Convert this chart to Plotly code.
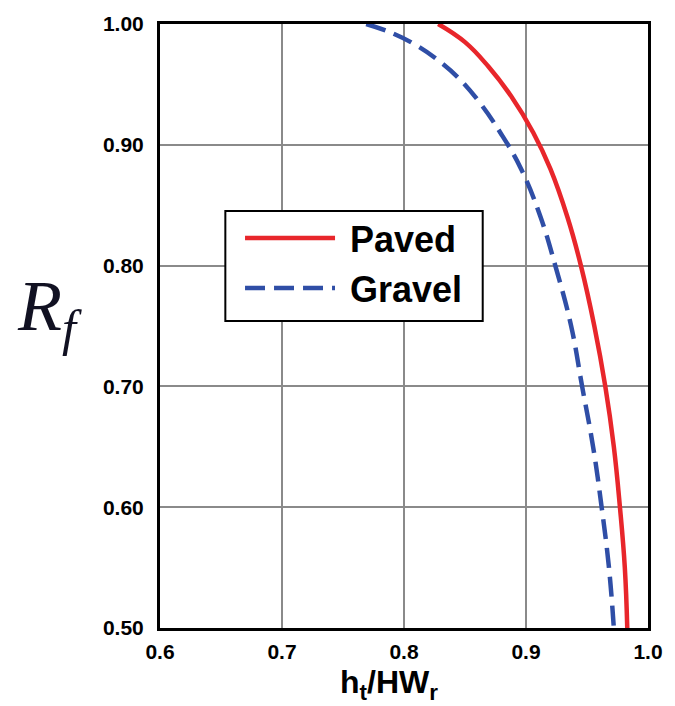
import plotly.graph_objects as go

# Data
paved_x = [0.828, 0.850, 0.869, 0.888, 0.906, 0.920, 0.934, 0.945, 0.956, 0.965, 0.972, 0.977, 0.981, 0.983]
paved_y = [1.000, 0.985, 0.965, 0.940, 0.910, 0.880, 0.840, 0.800, 0.750, 0.700, 0.650, 0.600, 0.550, 0.500]

gravel_x = [0.769, 0.789, 0.809, 0.828, 0.845, 0.862, 0.879, 0.896, 0.912, 0.924, 0.937, 0.946, 0.955, 0.962, 0.968, 0.972]
gravel_y = [1.000, 0.993, 0.983, 0.970, 0.955, 0.935, 0.910, 0.880, 0.840, 0.800, 0.750, 0.700, 0.650, 0.600, 0.550, 0.500]

x_ticks = [0.6, 0.7, 0.8, 0.9, 1.0]
x_tick_labels = ["0.6", "0.7", "0.8", "0.9", "1.0"]
y_ticks = [0.5, 0.6, 0.7, 0.8, 0.9, 1.0]
y_tick_labels = ["0.50", "0.60", "0.70", "0.80", "0.90", "1.00"]

fig = go.Figure()
fig.add_trace(go.Scatter(
    x=paved_x, y=paved_y, mode="lines", name="\u00a0Paved",
    line=dict(color="#e8262b", width=4.5, shape="spline", smoothing=1.2),
))
fig.add_trace(go.Scatter(
    x=gravel_x, y=gravel_y, mode="lines", name="\u00a0Gravel",
    line=dict(color="#2f4ea6", width=4.5, dash="20px,9px", shape="spline", smoothing=1.2),
))

axis_common = dict(
    showline=True, linecolor="black", linewidth=3, mirror=True,
    showgrid=True, gridcolor="#8a8a8a", gridwidth=1.5,
    zeroline=False, ticks="",
    tickfont=dict(family="Liberation Sans, Arial, sans-serif", size=21, color="black", weight="bold"),
)

fig.update_layout(
    width=675, height=706,
    margin=dict(l=160, r=22, t=18, b=78),
    paper_bgcolor="white", plot_bgcolor="white",
    xaxis=dict(range=[0.6, 1.0], tickvals=x_ticks, ticktext=x_tick_labels,
               ticklabelstandoff=3, **axis_common),
    yaxis=dict(range=[0.5, 1.0], tickvals=y_ticks, ticktext=y_tick_labels,
               ticklabelstandoff=9, **axis_common),
    showlegend=True,
    legend=dict(
        x=0.164, y=0.695, xanchor="left", yanchor="top",
        bgcolor="rgba(0,0,0,0)", borderwidth=0,
        font=dict(family="Liberation Sans, Arial, sans-serif", size=36, color="black", weight="bold"),
        itemwidth=90,
    ),
    shapes=[
        dict(type="rect", xref="paper", yref="paper",
             x0=0.1339, x1=0.6613, y0=0.5082, y1=0.6902,
             fillcolor="white", line=dict(color="black", width=2), layer="above"),
    ],
    annotations=[
        dict(text="<i>R</i><sub><i>f</i></sub>", xref="paper", yref="paper",
             x=-0.227, y=0.525, xanchor="center", yanchor="middle", showarrow=False,
             font=dict(family="Liberation Serif, DejaVu Serif, serif", size=72, color="#111122")),
        dict(text="<b>h<sub>t</sub>/HW<sub>r</sub></b>", xref="paper", yref="paper",
             x=0.4686, y=-0.057, xanchor="center", yanchor="top", showarrow=False,
             font=dict(family="Liberation Sans, Arial, sans-serif", size=32, color="black")),
    ],
)

fig.write_html("out.html", config={"displayModeBar": False},
               post_script="document.body.style.margin='0px';")
